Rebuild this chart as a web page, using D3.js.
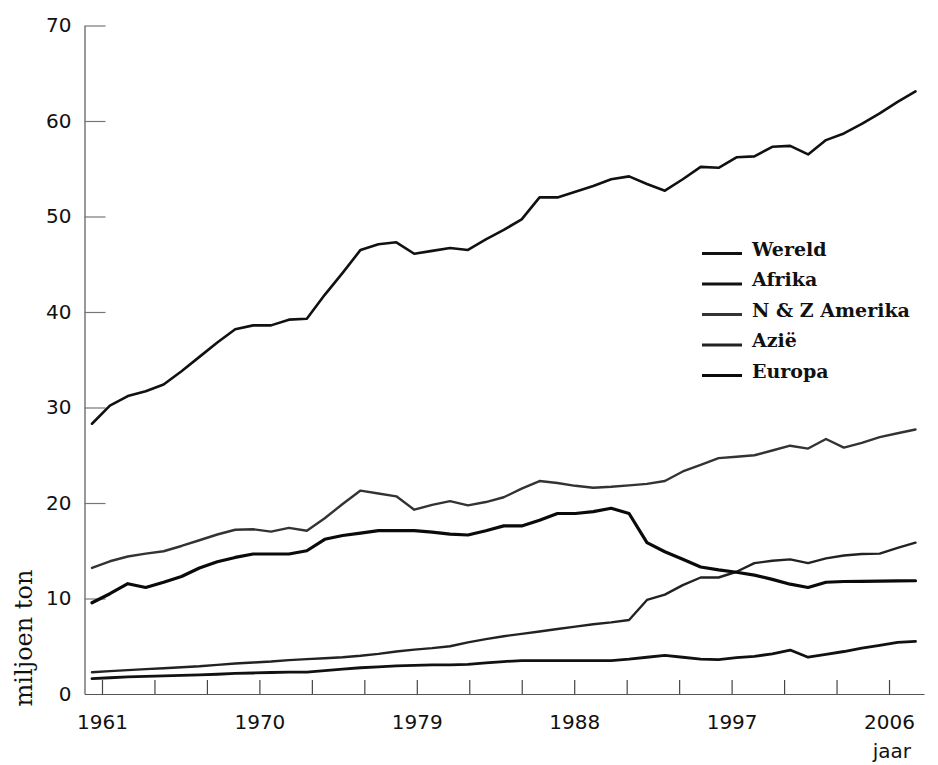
<!DOCTYPE html>
<html>
<head>
<meta charset="utf-8">
<script src="https://cdn.jsdelivr.net/npm/d3@7"></script>
<style>
  html, body { margin: 0; padding: 0; background: #fff; }
  svg { display: block; }
</style>
</head>
<body>
<svg id="chart" width="938" height="765"></svg>
<script>
// Beef and veal production per region, million tonnes, 1961–2007
const years = [1961,1962,1963,1964,1965,1966,1967,1968,1969,1970,
  1971,1972,1973,1974,1975,1976,1977,1978,1979,1980,
  1981,1982,1983,1984,1985,1986,1987,1988,1989,1990,
  1991,1992,1993,1994,1995,1996,1997,1998,1999,2000,
  2001,2002,2003,2004,2005,2006,2007];

const wereld = [28.3,30.2,31.2,31.7,32.4,33.8,35.3,36.8,38.2,38.6,
  38.6,39.2,39.3,41.8,44.1,46.5,47.1,47.3,46.1,46.4,
  46.7,46.5,47.6,48.6,49.7,52.0,52.0,52.6,53.2,53.9,
  54.2,53.4,52.7,53.9,55.2,55.1,56.2,56.3,57.3,57.4,
  56.5,58.0,58.7,59.7,60.8,62.0,63.1];

const afrika = [1.6,1.7,1.8,1.85,1.9,1.95,2.0,2.07,2.15,2.2,
  2.25,2.3,2.3,2.45,2.6,2.75,2.85,2.95,3.0,3.05,
  3.05,3.1,3.25,3.4,3.5,3.5,3.5,3.5,3.5,3.5,
  3.65,3.85,4.05,3.85,3.65,3.6,3.8,3.95,4.2,4.6,
  3.85,4.15,4.45,4.8,5.1,5.4,5.5];

const amerika = [13.2,13.9,14.4,14.7,14.95,15.5,16.1,16.7,17.2,17.25,
  17.0,17.4,17.1,18.4,19.9,21.3,21.0,20.7,19.3,19.8,
  20.2,19.75,20.1,20.6,21.5,22.3,22.1,21.8,21.6,21.7,
  21.85,22.0,22.3,23.3,24.0,24.7,24.85,25.0,25.5,26.0,
  25.7,26.7,25.8,26.3,26.9,27.3,27.7];

const azie = [2.27,2.4,2.5,2.6,2.7,2.8,2.9,3.05,3.2,3.3,
  3.4,3.55,3.65,3.75,3.85,4.0,4.2,4.45,4.65,4.8,
  5.0,5.4,5.75,6.05,6.3,6.55,6.8,7.05,7.3,7.5,
  7.75,9.85,10.4,11.4,12.2,12.2,12.8,13.7,13.95,14.1,
  13.7,14.2,14.5,14.66,14.7,15.3,15.85];

const europa = [9.55,10.5,11.55,11.15,11.7,12.3,13.2,13.85,14.3,14.66,
  14.66,14.66,15.0,16.2,16.6,16.85,17.1,17.1,17.1,16.95,
  16.75,16.65,17.1,17.6,17.6,18.2,18.9,18.9,19.1,19.45,
  18.9,15.85,14.9,14.1,13.3,13.0,12.75,12.45,12.0,11.5,
  11.15,11.7,11.78,11.8,11.82,11.84,11.86];

const seriesNames = ["Wereld", "Afrika", "N & Z Amerika", "Azië", "Europa"];
const yTicks = [0, 10, 20, 30, 40, 50, 60, 70];
const xTicks = [1961,1964,1967,1970,1973,1976,1979,1982,1985,1988,1991,1994,1997,2000,2003,2006];
const xLabels = [1961, 1970, 1979, 1988, 1997, 2006];

const seriesValues = [wereld, afrika, amerika, azie, europa];
const seriesStyle = [
  { color: "#111", width: 2.6 },
  { color: "#111", width: 2.8 },
  { color: "#333", width: 2.4 },
  { color: "#222", width: 2.4 },
  { color: "#0a0a0a", width: 3.2 }
];

const labelFont = "'DejaVu Sans', sans-serif";

const svg = d3.select("#chart");

// Scales: one for the plotted series, one for the tick ruler beneath
const x = d3.scaleLinear().domain([1961, 2007]).range([92, 915.5]);
const xAxisScale = d3.scaleLinear().domain([1960, 2008]).range([84.5, 924]);
const y = d3.scaleLinear().domain([0, 70]).range([694, 25.5]);

// Y axis: ticks pointing inward
const yAxis = svg.append("g")
  .attr("transform", "translate(84.5,0)")
  .call(d3.axisLeft(y).tickValues(yTicks).tickSizeInner(-21).tickSizeOuter(0).tickPadding(13));
yAxis.select(".domain").attr("stroke", "#555").attr("stroke-width", 1.2);
yAxis.selectAll(".tick line").attr("stroke", "#777").attr("stroke-width", 1.2);
yAxis.selectAll(".tick").filter(d => d === 0).select("line").remove();
yAxis.selectAll(".tick text")
  .style("font-family", labelFont).style("font-size", "20px").style("fill", "#111");

// X axis: ticks pointing upward, labels every ninth year
const xAxis = svg.append("g")
  .attr("transform", "translate(0,694)")
  .call(d3.axisBottom(xAxisScale).tickValues(xTicks)
    .tickSizeInner(-14).tickSizeOuter(0).tickPadding(21)
    .tickFormat(d => xLabels.includes(d) ? String(d) : ""));
xAxis.select(".domain").attr("stroke", "#555").attr("stroke-width", 1.2);
xAxis.selectAll(".tick line").attr("stroke", "#444").attr("stroke-width", 1.2);
xAxis.selectAll(".tick text")
  .style("font-family", labelFont).style("font-size", "20px").style("fill", "#111");

// Axis titles
svg.append("text")
  .attr("transform", "translate(32,638) rotate(-90)")
  .attr("text-anchor", "middle")
  .style("font-family", "'DejaVu Serif', serif")
  .style("font-size", "24px")
  .style("fill", "#111")
  .text("miljoen ton");

svg.append("text")
  .attr("x", 911).attr("y", 758)
  .attr("text-anchor", "end")
  .style("font-family", labelFont)
  .style("font-size", "20px")
  .style("fill", "#111")
  .text("jaar");

// Series lines
const line = d3.line()
  .x((d, i) => x(years[i]))
  .y(d => y(d));

svg.append("g")
  .selectAll("path")
  .data(seriesValues)
  .join("path")
  .attr("d", line)
  .attr("fill", "none")
  .attr("stroke", (d, i) => seriesStyle[i].color)
  .attr("stroke-width", (d, i) => seriesStyle[i].width)
  .attr("stroke-linejoin", "round")
  .attr("stroke-linecap", "round");

// Legend
const legend = svg.append("g").attr("transform", "translate(702,253.5)");
const rows = legend.selectAll("g")
  .data(seriesNames)
  .join("g")
  .attr("transform", (d, i) => `translate(0,${i * 30.5})`);
rows.append("line")
  .attr("x1", 0).attr("x2", 40)
  .attr("stroke", (d, i) => seriesStyle[i].color)
  .attr("stroke-width", 2.8);
rows.append("text")
  .attr("x", 50).attr("y", 2)
  .style("font-family", "'DejaVu Serif', serif")
  .style("font-weight", "bold")
  .style("font-size", "19px")
  .style("fill", "#111")
  .text(d => d);
</script>
</body>
</html>
